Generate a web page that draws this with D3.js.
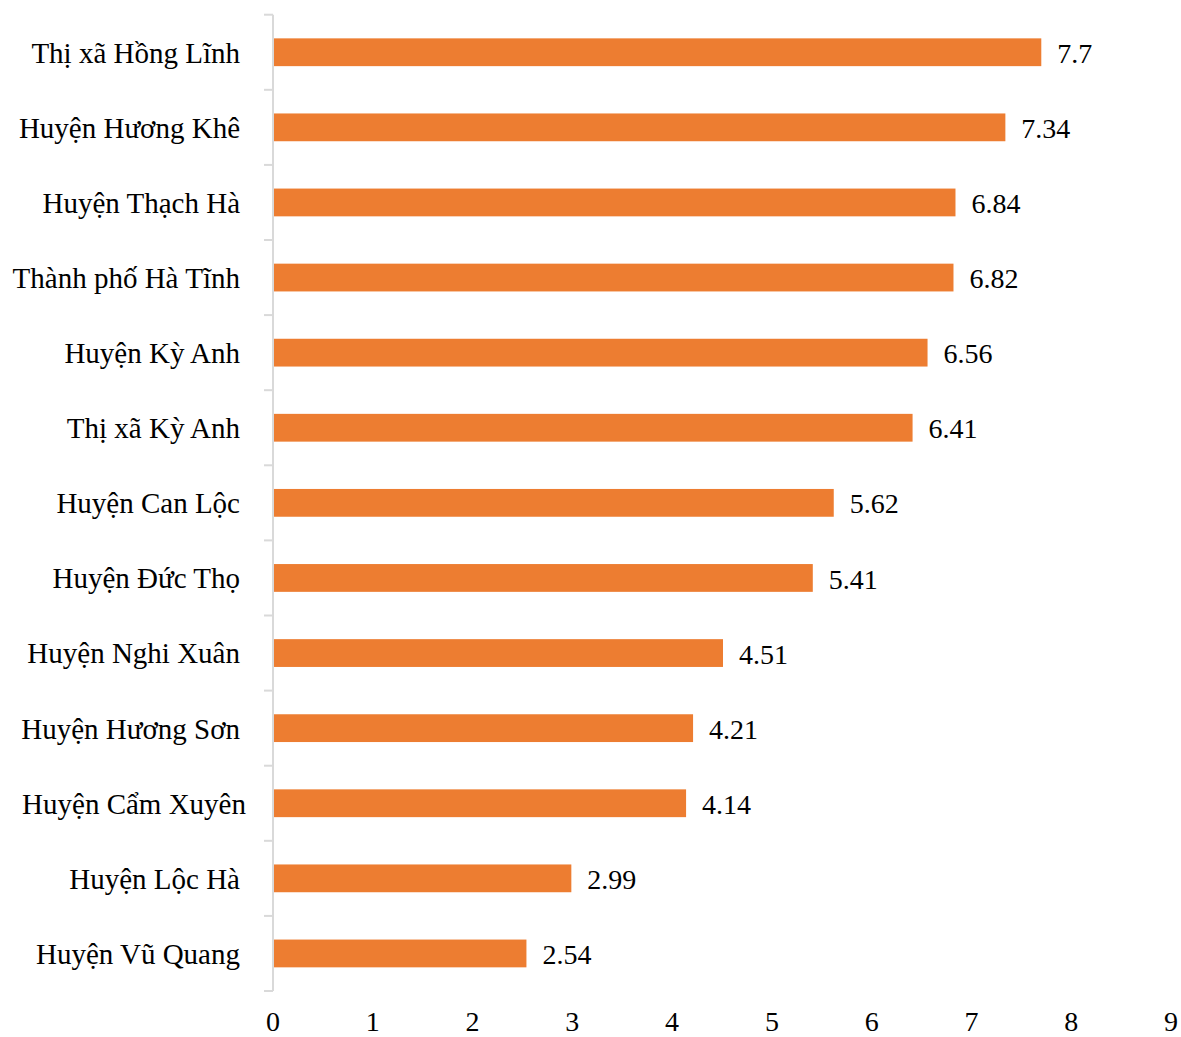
<!DOCTYPE html>
<html>
<head>
<meta charset="utf-8">
<script src="https://cdn.jsdelivr.net/npm/d3@7"></script>
<style>
html,body{margin:0;padding:0;background:#fff;}
text{font-family:"Liberation Serif","Times New Roman",serif;fill:#000;}
</style>
</head>
<body>
<svg id="chart" width="1181" height="1037"></svg>
<script>
const categories = ["Thị xã Hồng Lĩnh","Huyện Hương Khê","Huyện Thạch Hà","Thành phố Hà Tĩnh","Huyện Kỳ Anh","Thị xã Kỳ Anh","Huyện Can Lộc","Huyện Đức Thọ","Huyện Nghi Xuân","Huyện Hương Sơn","Huyện Cẩm Xuyên","Huyện Lộc Hà","Huyện Vũ Quang"];
const values = [7.7,7.34,6.84,6.82,6.56,6.41,5.62,5.41,4.51,4.21,4.14,2.99,2.54];
const valueLabels = ["7.7","7.34","6.84","6.82","6.56","6.41","5.62","5.41","4.51","4.21","4.14","2.99","2.54"];
const xTicks = [0,1,2,3,4,5,6,7,8,9];

const svg = d3.select("#chart");
const fs = 28;
const x = d3.scaleLinear().domain([0,9]).range([273,1171]);
const y = d3.scaleBand().domain(categories).range([14.7,991]).paddingInner(0.63).paddingOuter(0.315);

const y0 = 14.7;
svg.append("line").attr("x1",x(0)).attr("x2",x(0)).attr("y1",y0).attr("y2",991)
  .attr("stroke","#d9d9d9").attr("stroke-width",2);
d3.range(categories.length+1).forEach(i=>{
  const yy = y0 + i*(991-y0)/categories.length;
  svg.append("line").attr("x1",264).attr("x2",x(0)).attr("y1",yy).attr("y2",yy)
    .attr("stroke","#d9d9d9").attr("stroke-width",2);
});

svg.selectAll("rect.bar").data(values).join("rect").attr("class","bar")
  .attr("x",x(0)+1).attr("y",(d,i)=>y(categories[i]))
  .attr("width",d=>x(d)-x(0)-1).attr("height",y.bandwidth())
  .attr("fill","#ED7D31");

svg.selectAll("text.val").data(values).join("text").attr("class","val")
  .attr("x",d=>x(d)+16).attr("y",(d,i)=>y(categories[i])+y.bandwidth()/2)
  .attr("dy","0.38em").attr("font-size",fs).text((d,i)=>valueLabels[i]);

svg.selectAll("text.cat").data(categories).join("text").attr("class","cat")
  .attr("x",d=> d==="Huyện Cẩm Xuyên" ? 246 : 240).attr("y",d=>y(d)+y.bandwidth()/2)
  .attr("dy","0.36em").attr("text-anchor","end").attr("font-size",29).text(d=>d);

svg.selectAll("text.tick").data(xTicks).join("text").attr("class","tick")
  .attr("x",d=>x(d)).attr("y",1031).attr("text-anchor","middle")
  .attr("font-size",fs).text(d=>d);
</script>
</body>
</html>
